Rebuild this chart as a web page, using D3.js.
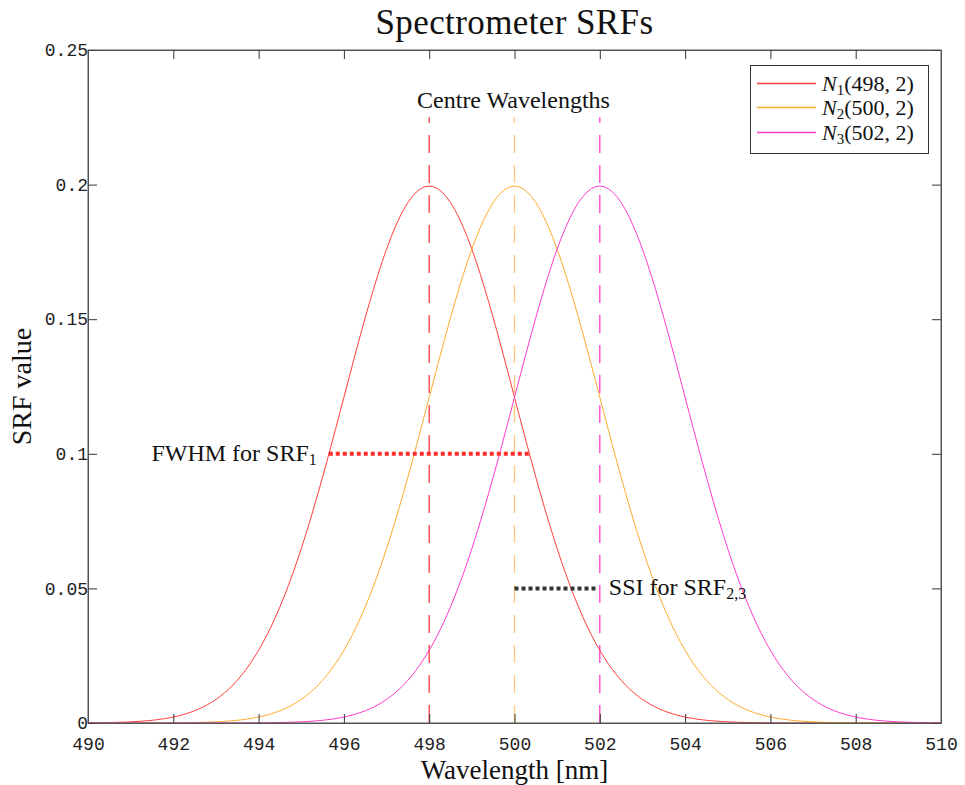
<!DOCTYPE html>
<html>
<head>
<meta charset="utf-8">
<script src="https://cdn.jsdelivr.net/npm/d3@7"></script>
<style>
  html, body { margin: 0; padding: 0; background: #fff; }
  svg { display: block; }
  .tick text { font-family: "Liberation Mono", "DejaVu Sans Mono", monospace; font-size: 18px; fill: #222; }
  .serif { font-family: "Liberation Serif", "DejaVu Serif", serif; fill: #111; }
</style>
</head>
<body>
<script>
// Spectral response functions: normal distributions N(centre, sigma)
const seriesNames = ["N1", "N2", "N3"];
const centres = [498, 500, 502];
const sigmas = [2, 2, 2];
const seriesColors = ["#ff3d3d", "#ffab2e", "#ff3ccc"];
const centreLineColors = ["#ff3d3d", "#ffc878", "#ff3ccc"];

const xDomain = [490, 510];
const yDomain = [0, 0.25];
const xTicks = [490, 492, 494, 496, 498, 500, 502, 504, 506, 508, 510];
const yTicks = [0, 0.05, 0.1, 0.15, 0.2, 0.25];
const yTickLabels = ["0", "0.05", "0.1", "0.15", "0.2", "0.25"];

const centreLineTop = 0.225;   // height reached by the centre-wavelength markers
const fwhmLevel = 0.1;         // level at which the FWHM bar is drawn
const ssiLevel = 0.05;         // level at which the SSI bar is drawn
const step = 0.1;              // wavelength sampling of the curves

const W = 965, H = 785;
const m = { left: 88, right: 24, top: 50, bottom: 62 };

const svg = d3.select("body").append("svg").attr("width", W).attr("height", H);

const x = d3.scaleLinear().domain(xDomain).range([m.left, W - m.right]);
const y = d3.scaleLinear().domain(yDomain).range([H - m.bottom, m.top]);

const pdf = (v, mu, s) => Math.exp(-0.5 * ((v - mu) / s) ** 2) / (s * Math.sqrt(2 * Math.PI));
const grid = d3.range(xDomain[0], xDomain[1] + step / 2, step);

// centre wavelength markers
svg.append("g").selectAll("line").data(centres).join("line")
  .attr("x1", d => x(d)).attr("x2", d => x(d))
  .attr("y1", y(0)).attr("y2", y(centreLineTop))
  .attr("stroke", (d, i) => centreLineColors[i])
  .attr("stroke-width", 1.3)
  .attr("stroke-dasharray", "18,12");

svg.append("text").attr("class", "serif")
  .attr("x", x(centres[1]) - 1).attr("y", y(centreLineTop) - 9)
  .attr("text-anchor", "middle").attr("font-size", 24)
  .text("Centre Wavelengths");

// SRF curves
const line = d3.line().x(d => x(d[0])).y(d => y(d[1]));
centres.forEach((mu, i) => {
  svg.append("path")
    .datum(grid.map(v => [v, pdf(v, mu, sigmas[i])]))
    .attr("fill", "none")
    .attr("stroke", seriesColors[i])
    .attr("stroke-width", 1)
    .attr("d", line);
});

// FWHM of the first SRF
const halfWidth = Math.sqrt(2 * Math.log(2)) * sigmas[0];
svg.append("line")
  .attr("x1", x(centres[0] - halfWidth)).attr("x2", x(centres[0] + halfWidth))
  .attr("y1", y(fwhmLevel)).attr("y2", y(fwhmLevel))
  .attr("stroke", "#ff2a2a").attr("stroke-width", 4)
  .attr("stroke-dasharray", "4,3");

const fwhmLabel = svg.append("text").attr("class", "serif")
  .attr("x", x(centres[0] - halfWidth) - 12).attr("y", y(fwhmLevel) + 7)
  .attr("text-anchor", "end").attr("font-size", 24);
fwhmLabel.append("tspan").text("FWHM for SRF");
fwhmLabel.append("tspan").attr("font-size", 16).attr("dy", 4).text("1");

// spectral sampling interval between SRF 2 and 3
svg.append("line")
  .attr("x1", x(centres[1])).attr("x2", x(centres[2]) - 4)
  .attr("y1", y(ssiLevel)).attr("y2", y(ssiLevel))
  .attr("stroke", "#333").attr("stroke-width", 4)
  .attr("stroke-dasharray", "4,3");

const ssiLabel = svg.append("text").attr("class", "serif")
  .attr("x", x(centres[2]) + 9).attr("y", y(ssiLevel) + 7)
  .attr("font-size", 24);
ssiLabel.append("tspan").text("SSI for SRF");
ssiLabel.append("tspan").attr("font-size", 16).attr("dy", 4).text("2,3");

// axes with inward ticks on all four sides
const tickLen = 9;
svg.append("g").attr("transform", `translate(0,${y(0)})`)
  .call(d3.axisBottom(x).tickValues(xTicks).tickSizeInner(-tickLen).tickSizeOuter(0).tickPadding(14).tickFormat(d3.format("d")));
svg.append("g").attr("transform", `translate(0,${y(0.25)})`)
  .call(d3.axisTop(x).tickValues(xTicks).tickSizeInner(-tickLen).tickSizeOuter(0).tickFormat(""));
svg.append("g").attr("transform", `translate(${x(490)},0)`)
  .call(d3.axisLeft(y).tickValues(yTicks).tickSizeInner(-tickLen).tickSizeOuter(0).tickPadding(0)
    .tickFormat((d, i) => yTickLabels[i]));
svg.append("g").attr("transform", `translate(${x(510)},0)`)
  .call(d3.axisRight(y).tickValues(yTicks).tickSizeInner(-tickLen).tickSizeOuter(0).tickFormat(""));
svg.selectAll(".domain").attr("stroke", "#555");
svg.selectAll(".tick line").attr("stroke", "#333");

svg.append("rect")
  .attr("x", x(490)).attr("y", y(0.25))
  .attr("width", x(510) - x(490)).attr("height", y(0) - y(0.25))
  .attr("fill", "none").attr("stroke", "#555").attr("stroke-width", 1);

// titles
svg.append("text").attr("class", "serif")
  .attr("x", (x(490) + x(510)) / 2).attr("y", 34)
  .attr("text-anchor", "middle").attr("font-size", 35).attr("letter-spacing", 0.4)
  .text("Spectrometer SRFs");
svg.append("text").attr("class", "serif")
  .attr("x", (x(490) + x(510)) / 2).attr("y", 779)
  .attr("text-anchor", "middle").attr("font-size", 27)
  .text("Wavelength [nm]");
svg.append("text").attr("class", "serif")
  .attr("transform", `translate(31,${(y(0) + y(0.25)) / 2}) rotate(-90)`)
  .attr("text-anchor", "middle").attr("font-size", 28)
  .text("SRF value");

// legend
const lg = svg.append("g").attr("transform", "translate(750,65)");
lg.append("rect").attr("x", 0.5).attr("y", 0.5).attr("width", 178).attr("height", 88)
  .attr("fill", "#fff").attr("stroke", "#333").attr("stroke-width", 1);
const legendRows = lg.selectAll("g").data(seriesNames).join("g")
  .attr("transform", (d, i) => `translate(0,${[18, 42, 67][i]})`);
legendRows.append("line").attr("x1", 7).attr("x2", 66).attr("y1", 0.5).attr("y2", 0.5)
  .attr("stroke", (d, i) => seriesColors[i]).attr("stroke-width", 1.5);
const lt = legendRows.append("text").attr("class", "serif")
  .attr("x", 72).attr("y", 8).attr("font-size", 22);
lt.append("tspan").attr("font-style", "italic").text("N");
lt.append("tspan").attr("font-size", 15).attr("dy", 4).text((d, i) => String(i + 1));
lt.append("tspan").attr("dy", -4).text((d, i) => `(${centres[i]}, ${sigmas[i]})`);
</script>
</body>
</html>
